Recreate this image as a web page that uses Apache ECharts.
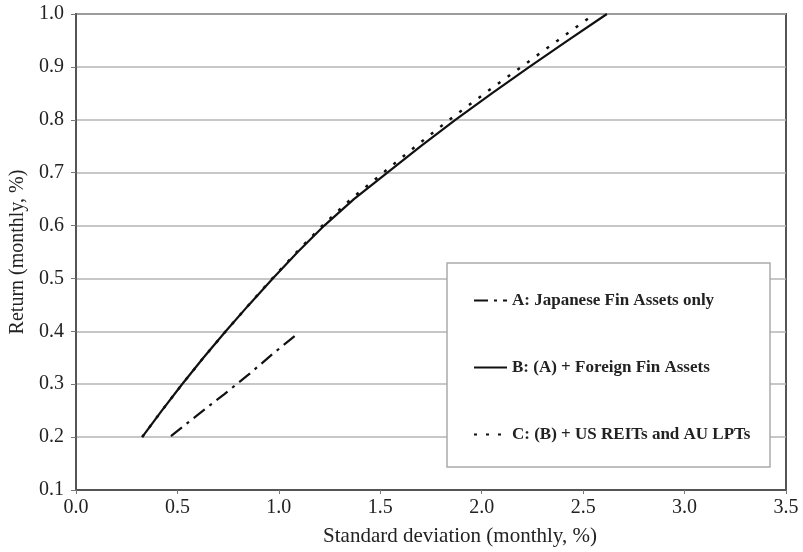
<!DOCTYPE html>
<html>
<head>
<meta charset="utf-8">
<title>Efficient frontiers</title>
<script src="https://cdn.jsdelivr.net/npm/echarts@6/dist/echarts.min.js"></script>
<style>
  body { margin: 0; background: #fff; }
  #main { width: 803px; height: 552px; }
</style>
</head>
<body>
<div id="main"></div>
<script>
// series names (legend)
var seriesNames = [
  "A: Japanese Fin Assets only",
  "B: (A) + Foreign Fin Assets",
  "C: (B) + US REITs and AU LPTs"
];

// [std dev, return]
var frontierA = [
  [0.468, 0.202], [0.60, 0.242], [0.73, 0.281], [0.85, 0.318], [0.975, 0.359], [1.078, 0.391]
];
var frontierB = [
  [0.326, 0.20], [0.423, 0.25], [0.523, 0.30], [0.628, 0.35], [0.738, 0.40],
  [0.852, 0.45], [0.97, 0.50], [1.093, 0.55], [1.224, 0.60], [1.37, 0.65],
  [1.535, 0.70], [1.70, 0.75], [1.87, 0.80], [2.05, 0.85], [2.235, 0.90],
  [2.425, 0.95], [2.617, 1.0]
];
var frontierC = [
  [0.326, 0.20], [0.423, 0.25], [0.523, 0.30], [0.628, 0.35], [0.738, 0.40],
  [0.852, 0.45], [0.968, 0.50], [1.088, 0.55], [1.215, 0.60], [1.355, 0.65],
  [1.515, 0.70], [1.675, 0.75], [1.84, 0.80], [2.015, 0.85], [2.195, 0.90],
  [2.375, 0.95], [2.555, 1.0]
];

var xTicks = { min: 0, max: 3.5, step: 0.5 };
var yTicks = { min: 0.1, max: 1.0, step: 0.1 };

var serif = "'Liberation Serif', 'DejaVu Serif', serif";
var chart = echarts.init(document.getElementById("main"));

var option = {
  animation: false,
  backgroundColor: "#fff",
  grid: {
    left: 73, right: 17, top: 14, bottom: 60,
    show: true,
    borderColor: "#555",
    borderWidth: 2
  },
  graphic: [
    {
      type: "rect",
      z: 3,
      shape: { x: 447, y: 263, width: 323, height: 204 },
      style: { fill: "#fff", stroke: "#aaa", lineWidth: 1.5 }
    }
  ],
  legend: {
    z: 5,
    orient: "vertical",
    left: 468,
    top: 287,
    itemWidth: 33,
    itemHeight: 14,
    itemGap: 50,
    data: seriesNames,
    itemStyle: { opacity: 0 },
    textStyle: { fontFamily: serif, fontWeight: "bold", fontSize: 17, color: "#222" }
  },
  xAxis: {
    type: "value",
    min: xTicks.min,
    max: xTicks.max,
    interval: xTicks.step,
    name: "Standard deviation (monthly, %)",
    nameLocation: "middle",
    nameGap: 36,
    nameTextStyle: { fontFamily: serif, fontSize: 21, color: "#222", padding: [0, 0, 0, 58] },
    axisLine: { lineStyle: { color: "#555", width: 2 } },
    axisTick: { show: true, length: 4, lineStyle: { color: "#777" } },
    axisLabel: {
      fontFamily: serif, fontSize: 20, color: "#222", margin: 8,
      formatter: function (v) { return v.toFixed(1); }
    },
    splitLine: { show: false }
  },
  yAxis: {
    type: "value",
    min: yTicks.min,
    max: yTicks.max,
    interval: yTicks.step,
    name: "Return (monthly, %)",
    nameLocation: "middle",
    nameGap: 48,
    nameTextStyle: { fontFamily: serif, fontSize: 20, color: "#222" },
    axisLine: { show: true, lineStyle: { color: "#555", width: 2 } },
    axisTick: { show: true, length: 5, lineStyle: { color: "#777" } },
    axisLabel: {
      fontFamily: serif, fontSize: 20, color: "#222", margin: 12,
      formatter: function (v) { return v.toFixed(1); }
    },
    splitLine: { show: true, lineStyle: { color: "#b4b4b4", width: 1.5 } }
  },
  series: [
    {
      name: seriesNames[0],
      type: "line",
      symbol: "none",
      data: frontierA,
      itemStyle: { color: "rgba(0,0,0,0)" },
      lineStyle: { color: "#111", width: 2.2, type: [14, 6, 3, 6] },
      z: 4
    },
    {
      name: seriesNames[1],
      type: "line",
      symbol: "none",
      data: frontierB,
      itemStyle: { color: "rgba(0,0,0,0)" },
      lineStyle: { color: "#111", width: 2.2, type: "solid" },
      z: 4
    },
    {
      name: seriesNames[2],
      type: "line",
      symbol: "none",
      data: frontierC,
      itemStyle: { color: "rgba(0,0,0,0)" },
      lineStyle: { color: "#111", width: 2.5, type: [3, 9] },
      z: 4
    }
  ]
};

chart.setOption(option);
</script>
</body>
</html>
